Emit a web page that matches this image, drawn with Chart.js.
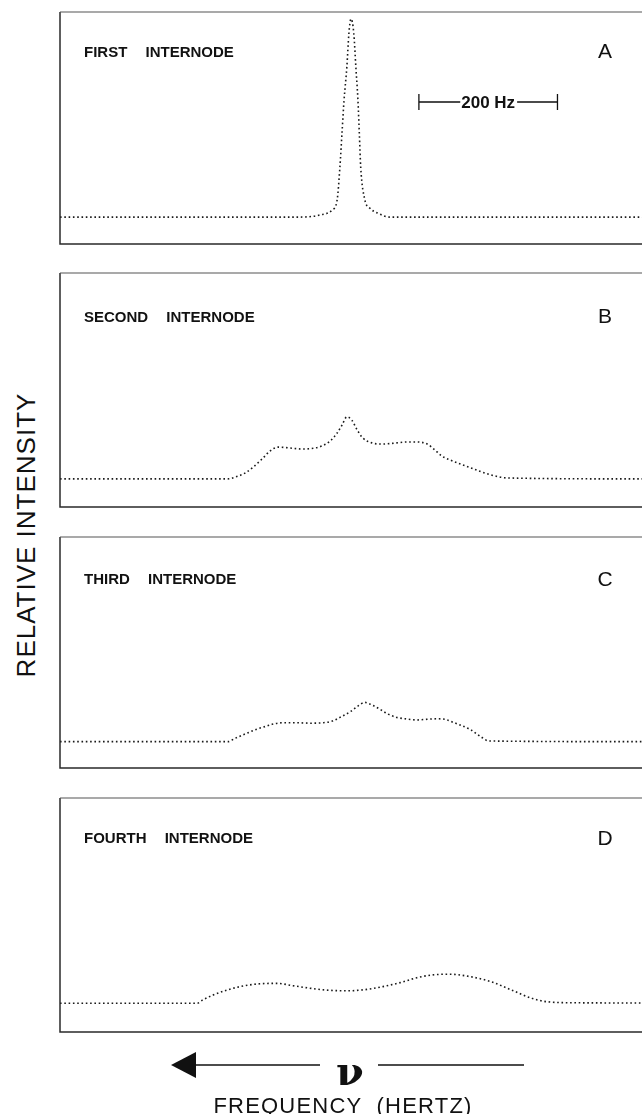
<!DOCTYPE html>
<html><head><meta charset="utf-8">
<script src="https://cdn.jsdelivr.net/npm/chart.js@4.4.1/dist/chart.umd.min.js"></script>
<style>
html,body{margin:0;padding:0;background:#fff;}
body{width:642px;height:1114px;overflow:hidden;position:relative;font-family:"Liberation Sans",Arial,sans-serif;color:#111;}
canvas{position:absolute;}
.lab{position:absolute;font-weight:bold;font-size:15px;white-space:pre;line-height:1;word-spacing:14px;transform:translateY(-50%);}
.let{position:absolute;font-size:21px;line-height:1;transform:translate(-50%,-50%);}
#ylab{position:absolute;left:26px;top:535px;font-size:26px;letter-spacing:1px;white-space:nowrap;line-height:1;transform:translate(-50%,-50%) rotate(-90deg);}
#xlab{position:absolute;left:343px;top:1113px;font-size:22px;letter-spacing:1.2px;white-space:pre;line-height:1;transform:translate(-50%,-82%);}
#nu{position:absolute;left:350px;top:1083px;font-family:"DejaVu Serif",serif;font-weight:bold;font-size:40px;line-height:1;transform:translate(-50%,-80%);}
svg{position:absolute;left:0;top:0;}
</style></head><body>
<script>
// ---- data (relative frequency in Hz, higher frequency to the left; relative intensity 0-100 of panel height)
const panelNames = ["FIRST INTERNODE", "SECOND INTERNODE", "THIRD INTERNODE", "FOURTH INTERNODE"];
const panelLetters = ["A", "B", "C", "D"];

const freqA = [420, 74, 45, 27, 20, 16, 13, 10, 6, 3, 0, -4, -7, -10, -12, -14, -20, -27, -38, -56, -420];
const intensityA = [11.6, 11.6, 12.5, 14.7, 19.0, 33.2, 47.8, 62.1, 76.3, 90.9, 97.0, 90.9, 76.3, 62.1, 47.8, 33.2, 19.0, 15.5, 13.4, 11.6, 11.6];

const freqB = [420, 178, 167, 153, 141, 127, 117, 105, 88, 71, 52, 42, 30, 20, 13, 6, -1, -9, -17, -30, -46, -66, -81, -95, -110, -121, -131, -143, -173, -202, -227, -420];
const intensityB = [12.0, 12.0, 12.8, 14.5, 17.1, 20.9, 23.9, 25.6, 25.2, 24.8, 25.2, 26.1, 28.2, 31.6, 35.0, 38.5, 37.2, 32.9, 29.5, 27.4, 26.9, 27.4, 27.8, 27.8, 26.9, 24.4, 21.8, 20.1, 16.7, 13.7, 12.4, 12.0];

const freqC = [420, 178, 167, 153, 136, 121, 114, 98, 78, 59, 40, 27, 16, 1, -10, -20, -30, -42, -53, -66, -81, -95, -110, -124, -136, -143, -173, -188, -199, -420];
const intensityC = [11.4, 11.4, 12.9, 14.7, 16.8, 18.2, 18.9, 19.6, 19.6, 19.4, 19.6, 20.3, 21.9, 24.4, 26.8, 28.4, 27.3, 25.4, 23.4, 21.9, 21.2, 20.8, 21.1, 21.3, 21.1, 20.3, 16.5, 13.4, 11.7, 11.4];

const freqD = [420, 222, 214, 199, 179, 160, 136, 107, 84, 59, 35, 6, -23, -46, -71, -95, -118, -143, -173, -202, -232, -261, -284, -320, -420];
const intensityD = [12.3, 12.3, 13.7, 15.8, 17.9, 19.4, 20.5, 20.8, 19.8, 18.7, 17.9, 17.6, 18.2, 19.4, 21.1, 23.2, 24.4, 24.7, 23.6, 21.5, 17.9, 14.4, 12.9, 12.5, 12.4];

const scaleBarHz = [-98, -298];   // 200 Hz scale bar
const scaleBarText = "200 Hz";
const freqRange = [-420, 420];

const series = [[freqA, intensityA], [freqB, intensityB], [freqC, intensityC], [freqD, intensityD]];
// frame geometry of each panel (page pixels)
const frames = [{top:12, h:232}, {top:273, h:234}, {top:537, h:231}, {top:798, h:234}];
const labelY = [51, 316, 578, 837];
const letterY = [50, 315, 578, 837];

const framePlugin = {
  id: 'frame',
  afterDraw(chart) {
    const {ctx, chartArea: a} = chart;
    ctx.save();
    ctx.strokeStyle = '#2a2a2a';
    ctx.lineWidth = 1.5;
    ctx.beginPath();
    ctx.moveTo(a.left, a.top); ctx.lineTo(a.left, a.bottom); ctx.lineTo(a.right + 2, a.bottom);
    ctx.stroke();
    ctx.strokeStyle = '#555';
    ctx.lineWidth = 1.1;
    ctx.beginPath();
    ctx.moveTo(a.left, a.top); ctx.lineTo(a.right + 2, a.top);
    ctx.stroke();
    if (chart.options.plugins.frame && chart.options.plugins.frame.scaleBar) {
      const xs = chart.scales.x;
      const x1 = xs.getPixelForValue(scaleBarHz[0]);
      const x2 = xs.getPixelForValue(scaleBarHz[1]);
      const y = a.top + 90;
      ctx.font = 'bold 17px "Liberation Sans", Arial, sans-serif';
      ctx.fillStyle = '#111';
      const w = ctx.measureText(scaleBarText).width;
      const cx = (x1 + x2) / 2;
      ctx.textAlign = 'center'; ctx.textBaseline = 'middle';
      ctx.fillText(scaleBarText, cx, y + 1);
      ctx.strokeStyle = '#111'; ctx.lineWidth = 1.3;
      const lo = Math.min(x1, x2), hi = Math.max(x1, x2);
      ctx.beginPath();
      ctx.moveTo(lo, y); ctx.lineTo(cx - w / 2 - 1, y);
      ctx.moveTo(cx + w / 2 + 2, y); ctx.lineTo(hi, y);
      ctx.moveTo(lo, y - 8); ctx.lineTo(lo, y + 8);
      ctx.moveTo(hi, y - 8); ctx.lineTo(hi, y + 8);
      ctx.stroke();
    }
    ctx.restore();
  }
};

series.forEach((s, i) => {
  const f = frames[i];
  const cv = document.createElement('canvas');
  cv.width = 586; cv.height = f.h + 8;
  cv.style.left = '56px'; cv.style.top = (f.top - 4) + 'px';
  document.body.appendChild(cv);
  new Chart(cv, {
    type: 'line',
    data: {
      datasets: [{
        data: s[0].map((x, k) => ({x: x, y: s[1][k]})),
        borderColor: '#1a1a1a',
        borderWidth: 1.6,
        borderDash: [1.6, 2.7],
        borderCapStyle: 'butt',
        pointRadius: 0,
        fill: false,
        cubicInterpolationMode: 'monotone'
      }]
    },
    options: {
      responsive: false,
      animation: false,
      layout: {padding: {left: 4, top: 4, bottom: 4, right: 0}},
      plugins: {legend: {display: false}, tooltip: {enabled: false}, frame: {scaleBar: i === 0}},
      scales: {
        x: {type: 'linear', reverse: true, min: freqRange[0], max: freqRange[1], display: false},
        y: {min: 0, max: 100, display: false}
      }
    },
    plugins: [framePlugin]
  });
  const lab = document.createElement('div');
  lab.className = 'lab'; lab.textContent = panelNames[i];
  lab.style.left = '84px'; lab.style.top = labelY[i] + 'px';
  document.body.appendChild(lab);
  const let_ = document.createElement('div');
  let_.className = 'let'; let_.textContent = panelLetters[i];
  let_.style.left = '605px'; let_.style.top = letterY[i] + 'px';
  document.body.appendChild(let_);
});
</script>
<div id="ylab">RELATIVE INTENSITY</div>
<svg width="642" height="1114">
  <polygon points="171,1065 196,1052 196,1078" fill="#111"/>
  <line x1="195" y1="1065" x2="320" y2="1065" stroke="#111" stroke-width="1.4"/>
  <line x1="378" y1="1065" x2="524" y2="1065" stroke="#111" stroke-width="1.4"/>
</svg>
<div id="nu">ν</div>
<div id="xlab">FREQUENCY  (HERTZ)</div>
</body></html>
